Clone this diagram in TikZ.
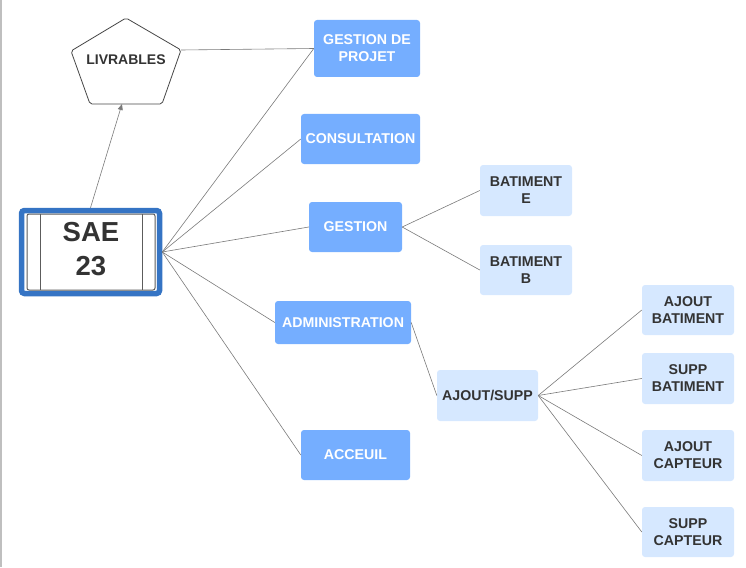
\documentclass[tikz,border=0pt]{standalone}
\usepackage{fontspec}
\setmainfont{Liberation Sans}
\usetikzlibrary{arrows.meta}

\definecolor{darkbox}{HTML}{75AEFF}
\definecolor{lightbox}{HTML}{D6E8FF}
\definecolor{saeblue}{HTML}{3574C4}
\definecolor{txtgrey}{HTML}{333333}
\definecolor{linkgrey}{HTML}{7A7A7A}

\tikzset{
  mainbox/.style={fill=darkbox, rounded corners=3pt, text=white, align=center,
    inner sep=0pt, font=\bfseries\fontsize{14.2}{17}\selectfont},
  subbox/.style={fill=lightbox, rounded corners=3pt, text=txtgrey, align=center,
    inner sep=0pt, font=\bfseries\fontsize{14.2}{17}\selectfont},
  link/.style={draw=linkgrey, line width=0.6pt}
}

\begin{document}
\begin{tikzpicture}[x=1pt,y=-1pt]
   \useasboundingbox (0,0) rectangle (746,567);
   \fill [black!25] (0,0) rectangle (2,567);

   % livrables
   \draw [txtgrey!90, line width=0.8pt, fill=white, rounded corners=2pt]
      (126,18) -- (181,50) -- (162,104) -- (90,104) -- (71,51) -- cycle;
   \node [text=txtgrey, font=\bfseries\fontsize{14}{17}\selectfont] (livr) at (126,60) {LIVRABLES};
   \coordinate (livrright) at (181,50);
   \coordinate (livrbase) at (122,104);

   % sae 23
   \node [draw=saeblue, line width=5.5pt, rounded corners=3pt, minimum width=138pt,
          minimum height=83pt, inner sep=0pt] (sae) at (90.5,252) {};
   \draw [txtgrey!80, line width=1pt, fill=white, rounded corners=2pt] (27,214) rectangle (155,290);
   \draw [txtgrey!80, line width=1pt] (40,214) -- (40,290);
   \draw [txtgrey!80, line width=1pt] (142,214) -- (142,290);
   \node [text=txtgrey, align=center, font=\bfseries\fontsize{27.5}{34}\selectfont] (saetxt) at (91,249) {SAE\\23};

   % main branches
   \node [mainbox, minimum width=106pt, minimum height=57pt] (gdp)   at (367,48.5)  {GESTION DE\\PROJET};
   \node [mainbox, minimum width=119pt, minimum height=50pt] (cons)  at (360.5,139)  {CONSULTATION};
   \node [mainbox, minimum width=93pt,  minimum height=50pt] (gest)  at (355.5,227)  {GESTION};
   \node [mainbox, minimum width=136pt, minimum height=43pt] (admin) at (343,322.5)  {ADMINISTRATION};
   \node [mainbox, minimum width=109pt, minimum height=50pt] (acc)   at (355.5,455)  {ACCEUIL};

   % sub branches
   \node [subbox, minimum width=92pt,  minimum height=51pt] (batE)  at (526,190.5)  {BATIMENT\\E};
   \node [subbox, minimum width=92pt,  minimum height=50pt] (batB)  at (526,270)    {BATIMENT\\B};
   \node [subbox, minimum width=101pt, minimum height=51pt] (ajsup) at (487.5,395.5) {AJOUT/SUPP};
   \node [subbox, minimum width=92pt,  minimum height=50pt] (ajbat) at (688,310)    {AJOUT\\BATIMENT};
   \node [subbox, minimum width=92pt,  minimum height=51pt] (spbat) at (688,378.5)  {SUPP\\BATIMENT};
   \node [subbox, minimum width=92pt,  minimum height=51pt] (ajcap) at (688,455.5)  {AJOUT\\CAPTEUR};
   \node [subbox, minimum width=92pt,  minimum height=50pt] (spcap) at (688,532)    {SUPP\\CAPTEUR};

   % links
   \draw [link, -{Triangle[length=6pt, width=5pt]}] (sae.north) -- (livrbase);
   \draw [link] (livrright) -- (gdp.west);
   \foreach \target in {gdp, cons, gest, admin, acc}
      \draw [link] (sae.east) -- (\target.west);
   \draw [link] (gest.east) -- (batE.west);
   \draw [link] (gest.east) -- (batB.west);
   \draw [link] (admin.east) -- (ajsup.west);
   \foreach \target in {ajbat, spbat, ajcap, spcap}
      \draw [link] (ajsup.east) -- (\target.west);
\end{tikzpicture}
\end{document}
